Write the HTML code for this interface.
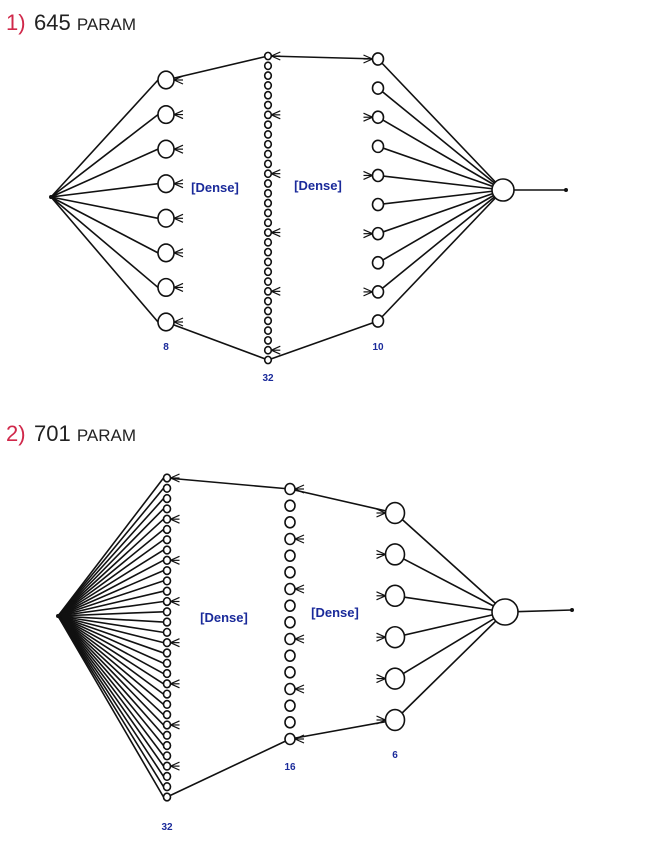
<!DOCTYPE html>
<html><head><meta charset="utf-8"><style>
html,body{margin:0;padding:0;background:#fff;}
svg{display:block;}
text{font-family:"Liberation Sans",sans-serif;}
</style></head><body>
<svg id="svg" width="646" height="848" viewBox="0 0 646 848">
<text x="6" y="30" font-size="22" fill="#d0284a">1)</text>
<text x="34" y="30" font-size="22" fill="#222">645 <tspan font-size="17">PARAM</tspan></text>
<text x="6" y="441" font-size="22" fill="#d0284a">2)</text>
<text x="34" y="441" font-size="22" fill="#222">701 <tspan font-size="17">PARAM</tspan></text>
<g id="d"></g>
</svg>
<script>
const layers1 = [8, 32, 10];
const layers2 = [32, 16, 6];
const labels1 = ["8", "32", "10"];
const labels2 = ["32", "16", "6"];
const NS = "http://www.w3.org/2000/svg";
const g = document.getElementById('d');
function mk(tag, attrs){const e=document.createElementNS(NS,tag);for(const k in attrs)e.setAttribute(k,attrs[k]);g.appendChild(e);return e;}
function line(x1,y1,x2,y2,name){const e=mk('line',{x1,y1,x2,y2,stroke:'#111','stroke-width':1.6});

}
function arrow(x,y,r,side){for(const dy of [-4,0,4]){const e=mk('line',{x1:x+side*r,y1:y,x2:x+side*(r+9),y2:y+dy,stroke:'#111','stroke-width':1.2});

}}
function diagram(sizes, labels, cfg){
  const pos = sizes.map((n,i)=>{const L=cfg.layers[i];const a=[];for(let k=0;k<n;k++)a.push([L.x, L.y0+(L.y1-L.y0)*(n>1?k/(n-1):0.5)]);return a;});
  pos[0].forEach(p=>line(cfg.inp[0],cfg.inp[1],p[0]-cfg.layers[0].r,p[1],'input-edge'));
  for(let i=0;i<pos.length-1;i++){
    const a=pos[i],b=pos[i+1];
    line(a[0][0],a[0][1],b[0][0],b[0][1],'dense-edge-top');
    line(a[a.length-1][0],a[a.length-1][1],b[b.length-1][0],b[b.length-1][1],'dense-edge-bottom');
  }
  const last=pos[pos.length-1];
  last.forEach(p=>line(p[0],p[1],cfg.out[0],cfg.out[1],'output-edge'));
  line(cfg.out[0],cfg.out[1],cfg.end[0],cfg.end[1],'output-line');
  pos.forEach((arr,i)=>{const r=cfg.layers[i].r;arr.forEach((p,k)=>{
    const c=mk('ellipse',{cx:p[0],cy:p[1],rx:r,ry:r*1.1,fill:'#fff',stroke:'#111','stroke-width':1.6});
    
    
    if(cfg.arrows[i] && k%cfg.arrows[i]===0) arrow(p[0],p[1],r,i===pos.length-1?-1:1);
  });
    const t=mk('text',{x:cfg.layers[i].x,y:cfg.labelY[i],'font-size':10,'font-weight':'bold',fill:'#1a2a9a','text-anchor':'middle'});
    t.textContent=labels[i];
    
    
  });
  const o=mk('circle',{cx:cfg.out[0],cy:cfg.out[1],r:cfg.outR,fill:'#fff',stroke:'#111','stroke-width':1.6});
  
  
  const s=mk('circle',{cx:cfg.inp[0],cy:cfg.inp[1],r:2,fill:'#111'});
  
  
  const e=mk('circle',{cx:cfg.end[0],cy:cfg.end[1],r:2,fill:'#111'});
  
  
  cfg.dense.forEach(d=>{const t=mk('text',{x:d[0],y:d[1],'font-size':13,fill:'#1a2a9a','text-anchor':'middle','font-weight':'bold'});t.textContent='[Dense]';
    
    });
}
diagram(layers1, labels1, {inp:[51,197], out:[503,190], outR:11, end:[566,190],
  layers:[{x:166,y0:80,y1:322,r:8},{x:268,y0:56,y1:360,r:3.3},{x:378,y0:59,y1:321,r:5.5}],
  labelY:[350,381,350], arrows:[1,6,2], dense:[[215,192],[318,190]]});
diagram(layers2, labels2, {inp:[58,616], out:[505,612], outR:13, end:[572,610],
  layers:[{x:167,y0:478,y1:797,r:3.5},{x:290,y0:489,y1:739,r:5},{x:395,y0:513,y1:720,r:9.5}],
  labelY:[830,770,758], arrows:[4,3,1], dense:[[224,622],[335,617]]});
</script>
</body></html>
